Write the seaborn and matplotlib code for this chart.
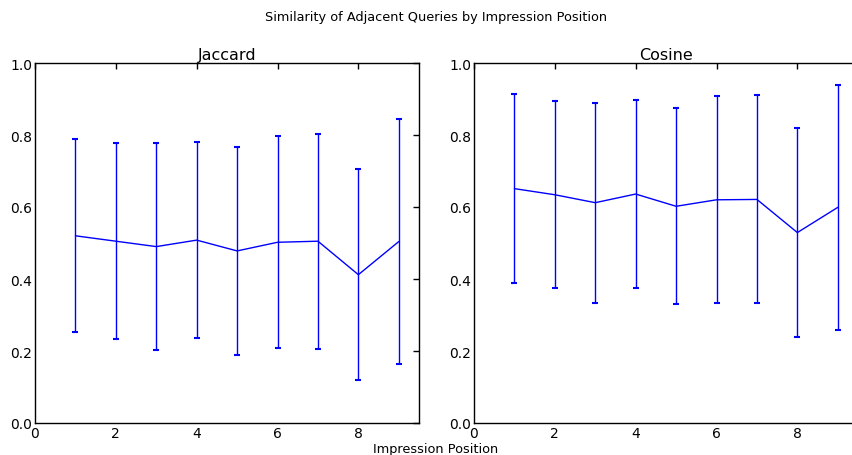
import matplotlib
matplotlib.use("Agg")
import matplotlib.pyplot as plt
import seaborn as sns
import pandas as pd
import numpy as np

positions = [1, 2, 3, 4, 5, 6, 7, 8, 9]
jaccard_mean = [0.520, 0.505, 0.490, 0.508, 0.478, 0.502, 0.505, 0.412, 0.504]
jaccard_std = [0.268, 0.272, 0.288, 0.273, 0.288, 0.295, 0.299, 0.293, 0.340]
cosine_mean = [0.651, 0.634, 0.612, 0.636, 0.602, 0.620, 0.621, 0.529, 0.599]
cosine_std = [0.262, 0.260, 0.278, 0.261, 0.272, 0.287, 0.289, 0.291, 0.341]
panel_titles = ["Jaccard", "Cosine"]
suptitle = "Similarity of Adjacent Queries by Impression Position"
xlabel = "Impression Position"

sns.set_theme(style="white")
plt.rcParams.update({
    "font.family": ["DejaVu Sans"],
    "text.color": "black",
    "axes.labelcolor": "black",
    "axes.titlecolor": "black",
    "axes.edgecolor": "black",
    "axes.linewidth": 1.0,
    "xtick.direction": "in",
    "ytick.direction": "in",
    "xtick.top": True,
    "ytick.right": True,
    "xtick.major.size": 4,
    "ytick.major.size": 4,
    "xtick.major.width": 1.0,
    "ytick.major.width": 1.0,
    "xtick.color": "black",
    "ytick.color": "black",
    "xtick.labelcolor": "black",
    "ytick.labelcolor": "black",
    "xtick.labelsize": 10,
    "ytick.labelsize": 10,
})

fig = plt.figure(figsize=(8.53, 4.56), dpi=100)
ax1 = fig.add_axes([35 / 853, 32 / 456, 384 / 853, 360 / 456])
ax2 = fig.add_axes([474 / 853, 32 / 456, 384 / 853, 360 / 456])

for ax, title, means, stds in [
    (ax1, panel_titles[0], jaccard_mean, jaccard_std),
    (ax2, panel_titles[1], cosine_mean, cosine_std),
]:
    df = pd.DataFrame({"pos": positions, "mean": means, "std": stds})
    sns.lineplot(data=df, x="pos", y="mean", ax=ax, color="#0000ff", linewidth=1.0)
    ax.errorbar(df["pos"], df["mean"], yerr=df["std"], fmt="none",
                ecolor="#0000ff", elinewidth=1.0, capsize=2.5, capthick=1.5)
    ax.set_xlim(0, 9.5)
    ax.set_ylim(0, 1.0)
    ax.set_xticks([0, 2, 4, 6, 8])
    ax.set_yticks([0.0, 0.2, 0.4, 0.6, 0.8, 1.0])
    ax.set_yticklabels([f"{v:.1f}" for v in [0.0, 0.2, 0.4, 0.6, 0.8, 1.0]])
    ax.set_xlabel("")
    ax.set_ylabel("")
    ax.set_title(title, fontsize=11.5, pad=3)
    ax.tick_params(axis="both", which="major", pad=2)
    for s in ax.spines.values():
        s.set_visible(True)
        s.set_color("black")

fig.suptitle(suptitle, x=436 / 853, y=1 - 18 / 456, va="center", fontsize=9.3)
fig.text(436 / 853, 6 / 456, xlabel, ha="center", va="center", fontsize=9.3)

fig.savefig("out.png", dpi=100)
